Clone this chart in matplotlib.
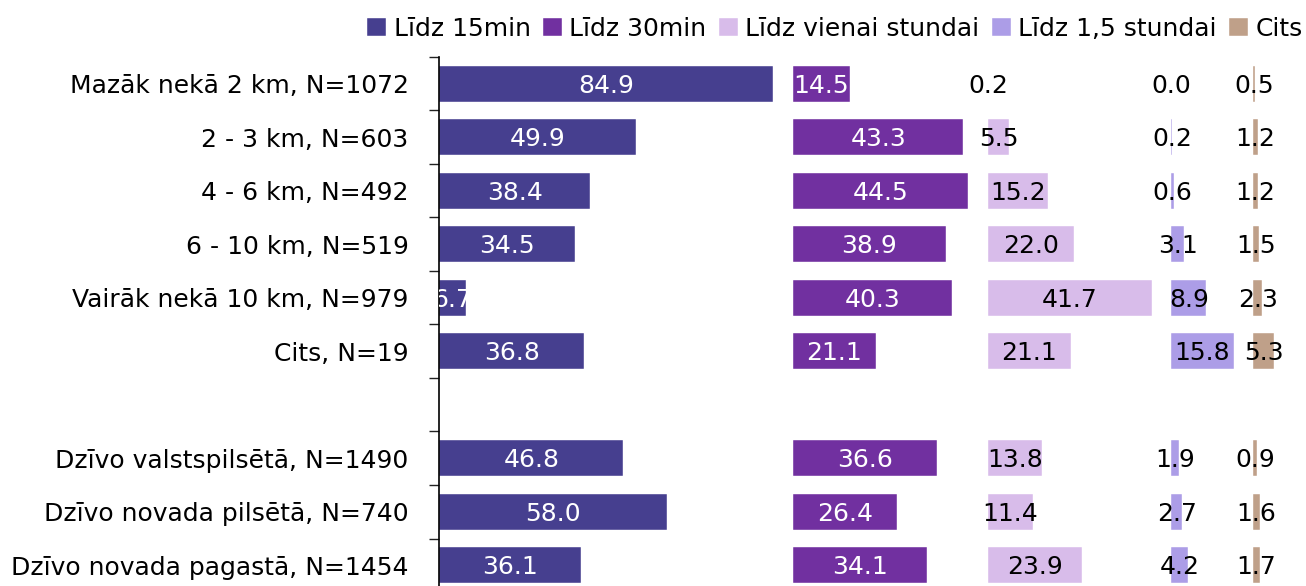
import matplotlib.pyplot as plt

categories = ["Mazāk nekā 2 km, N=1072", "2 - 3 km, N=603", "4 - 6 km, N=492",
              "6 - 10 km, N=519", "Vairāk nekā 10 km, N=979", "Cits, N=19", "",
              "Dzīvo valstspilsētā, N=1490", "Dzīvo novada pilsētā, N=740",
              "Dzīvo novada pagastā, N=1454"]
series_names = ["Līdz 15min", "Līdz 30min", "Līdz vienai stundai",
                "Līdz 1,5 stundai", "Cits"]
lidz_15 = [84.9, 49.9, 38.4, 34.5, 6.7, 36.8, None, 46.8, 58.0, 36.1]
lidz_30 = [14.5, 43.3, 44.5, 38.9, 40.3, 21.1, None, 36.6, 26.4, 34.1]
lidz_1h = [0.2, 5.5, 15.2, 22.0, 41.7, 21.1, None, 13.8, 11.4, 23.9]
lidz_15h = [0.0, 0.2, 0.6, 3.1, 8.9, 15.8, None, 1.9, 2.7, 4.2]
cits = [0.5, 1.2, 1.2, 1.5, 2.3, 5.3, None, 0.9, 1.6, 1.7]

series = [lidz_15, lidz_30, lidz_1h, lidz_15h, cits]
colors = ["#463F8F", "#7130A0", "#D8BCEA", "#AC9DE7", "#BFA089"]
text_colors = ["white", "white", "black", "black", "black"]

plt.rcParams['font.family'] = ['DejaVu Sans']

fig = plt.figure(figsize=(13.06, 5.86), dpi=100)
ax = fig.add_axes([439.3 / 1306, -6 / 586, 865.5 / 1306, 535 / 586])

# each series gets its own panel: start = previous start + previous max + 5
start = 0
ypos = list(range(len(categories)))
for name, vals, col, tcol in zip(series_names, series, colors, text_colors):
    ys = [y for y, v in zip(ypos, vals) if v is not None]
    vs = [v for v in vals if v is not None]
    ax.barh(ys, vs, left=start, height=0.68, color=col, label=name,
            edgecolor="white", linewidth=0.3)
    for y, v in zip(ys, vs):
        ax.text(start + v / 2, y + 0.04, f"{v:.1f}", ha="center", va="center",
                color=tcol, fontsize=18, clip_on=True)
    start += max(vs) + 5

ax.set_xlim(0, 220)
ax.set_ylim(len(categories) - 0.5, -0.5)
ax.set_yticks(ypos)
ax.set_yticklabels(categories, fontsize=18)
ax.set_yticks([y - 0.5 for y in range(len(categories) + 1)], minor=True)
ax.tick_params(axis="y", which="major", length=0, pad=22)
ax.tick_params(axis="y", which="minor", length=7, width=1, color="#222222")
ax.set_xticks([])
for s in ["top", "right", "bottom"]:
    ax.spines[s].set_visible(False)
ax.spines["left"].set_linewidth(1.2)

fig.legend(loc="upper right", bbox_to_anchor=(1.008, 0.995), ncol=5, frameon=False,
           fontsize=18, handlelength=0.75, handleheight=0.75, handletextpad=0.3,
           columnspacing=0.5, borderaxespad=0.15)

fig.savefig("out.png", dpi=100)
